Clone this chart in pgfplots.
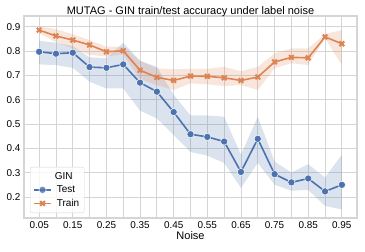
\documentclass[border=0pt]{standalone}
\usepackage{pgfplots}
\pgfplotsset{compat=1.18}
\usepackage{fontspec}
\setmainfont{Liberation Sans}
\definecolor{sbblue}{HTML}{4C72B0}
\definecolor{sborange}{HTML}{DD8452}
\definecolor{gridc}{HTML}{D5D5D5}
\begin{document}
\begin{tikzpicture}
\begin{axis}[
  name=ax,
  scale only axis,
  width=333pt, height=202pt,
  xmin=0.005, xmax=0.995,
  ymin=0.1136, ymax=0.944,
  xtick={0.05,0.15,0.25,0.35,0.45,0.55,0.65,0.75,0.85,0.95},
  minor xtick={0.1,0.2,0.3,0.4,0.5,0.6,0.7,0.8,0.9},
  ytick={0.2,0.3,0.4,0.5,0.6,0.7,0.8,0.9},
  xticklabel style={/pgf/number format/.cd, fixed, fixed zerofill, precision=2},
  yticklabel style={/pgf/number format/.cd, fixed, fixed zerofill, precision=1},
  /pgf/number format/assume math mode=true,
  tick label style={font=\fontsize{9.9}{11}\selectfont},
  major tick length=0pt, minor tick length=0pt,
  xmajorgrids, ymajorgrids, xminorgrids,
  grid style={gridc, line width=0.9pt},
  minor grid style={gridc, line width=0.9pt},
  axis line style={gridc, line width=1.1pt},
  xlabel={Noise},
  xlabel style={font=\fontsize{11}{13}\selectfont, yshift=4pt},
  title={MUTAG - GIN train/test accuracy under label noise},
  title style={font=\fontsize{11}{13}\selectfont, yshift=-10pt},
  legend style={at={(rel axis cs:0,0)}, anchor=south west, xshift=6pt, yshift=5pt,
    draw=gridc, rounded corners=2pt, fill=white, fill opacity=0.8, text opacity=1,
    font=\fontsize{10}{12}\selectfont, row sep=1pt, column sep=3pt, inner sep=3pt},
  legend cell align=left,
  legend image code/.code={
    \draw[mark repeat=2, mark phase=2, #1] plot coordinates {(0cm,0cm) (0.3cm,0cm) (0.6cm,0cm)};
  },
  clip=true,
]
% blue band
\addplot[draw=none, fill=sbblue, fill opacity=0.2, forget plot] coordinates {
(0.05,0.842) (0.10,0.834) (0.15,0.820) (0.20,0.774) (0.25,0.771) (0.30,0.834)
(0.35,0.760) (0.40,0.735) (0.45,0.620) (0.50,0.535) (0.55,0.535) (0.60,0.530)
(0.65,0.374) (0.70,0.530) (0.75,0.346) (0.80,0.300) (0.85,0.335) (0.90,0.280) (0.95,0.374)
(0.95,0.149) (0.90,0.163) (0.85,0.229) (0.80,0.226) (0.75,0.250) (0.70,0.340) (0.65,0.237)
(0.60,0.340) (0.55,0.370) (0.50,0.385) (0.45,0.455) (0.40,0.523) (0.35,0.555)
(0.30,0.646) (0.25,0.646) (0.20,0.674) (0.15,0.731) (0.10,0.742) (0.05,0.745)
} -- cycle;
\addplot[sbblue, line width=1.6pt, mark=*, mark size=3.6pt,
  mark options={fill=sbblue, draw=white, line width=0.5pt}, forget plot] coordinates {
(0.05,0.797) (0.10,0.789) (0.15,0.793) (0.20,0.734) (0.25,0.731) (0.30,0.745)
(0.35,0.670) (0.40,0.633) (0.45,0.549) (0.50,0.458) (0.55,0.447) (0.60,0.428)
(0.65,0.303) (0.70,0.439) (0.75,0.294) (0.80,0.260) (0.85,0.276) (0.90,0.223) (0.95,0.250)
};
% orange band
\addplot[draw=none, fill=sborange, fill opacity=0.2, forget plot] coordinates {
(0.05,0.902) (0.10,0.890) (0.15,0.869) (0.20,0.845) (0.25,0.818) (0.30,0.818)
(0.35,0.760) (0.40,0.729) (0.45,0.725) (0.50,0.727) (0.55,0.727) (0.60,0.735)
(0.65,0.717) (0.70,0.735) (0.75,0.790) (0.80,0.811) (0.85,0.811) (0.90,0.870) (0.95,0.886)
(0.95,0.742) (0.90,0.852) (0.85,0.742) (0.80,0.750) (0.75,0.729) (0.70,0.640) (0.65,0.660)
(0.60,0.656) (0.55,0.663) (0.50,0.667) (0.45,0.640) (0.40,0.660) (0.35,0.684)
(0.30,0.787) (0.25,0.777) (0.20,0.784) (0.15,0.811) (0.10,0.836) (0.05,0.873)
} -- cycle;
\addplot[sborange, line width=1.6pt, mark=x, mark size=3.3pt,
  mark options={line width=2pt}, forget plot] coordinates {
(0.05,0.886) (0.10,0.862) (0.15,0.845) (0.20,0.825) (0.25,0.797) (0.30,0.801)
(0.35,0.721) (0.40,0.692) (0.45,0.679) (0.50,0.697) (0.55,0.696) (0.60,0.690)
(0.65,0.679) (0.70,0.693) (0.75,0.755) (0.80,0.774) (0.85,0.772) (0.90,0.858) (0.95,0.830)
};
\addlegendimage{empty legend}
\addlegendentry{\hspace*{-2pt}GIN}
\addlegendimage{sbblue, line width=1.6pt, mark=*, mark size=3.6pt, mark options={fill=sbblue, draw=white, line width=0.5pt}}
\addlegendentry{Test}
\addlegendimage{sborange, line width=1.6pt, mark=x, mark size=3.3pt, mark options={line width=2pt}}
\addlegendentry{Train}
\end{axis}
\pgfresetboundingbox
\path (ax.south west) ++(-24pt,-33pt) coordinate (bl);
\path (ax.north east) ++(8pt,16pt) coordinate (tr);
\path[use as bounding box] (bl) rectangle (tr);
\end{tikzpicture}
\end{document}
